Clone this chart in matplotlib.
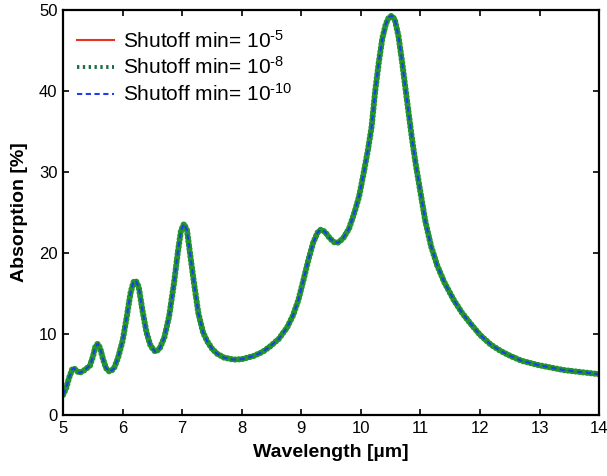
import matplotlib
matplotlib.use("Agg")
import matplotlib.pyplot as plt
from matplotlib.lines import Line2D

plt.rcParams['font.family'] = ['Liberation Sans', 'DejaVu Sans']
plt.rcParams['mathtext.fontset'] = 'custom'
plt.rcParams['mathtext.rm'] = 'Liberation Sans'
plt.rcParams['mathtext.it'] = 'Liberation Sans'

# values (all three shutoff settings overlap)
wavelength = [5.00, 5.05, 5.10, 5.15, 5.18, 5.22, 5.27, 5.33, 5.40, 5.45,
              5.50, 5.54, 5.58, 5.62, 5.67, 5.72, 5.78, 5.85, 5.92, 6.00,
              6.07, 6.13, 6.18, 6.22, 6.27, 6.33, 6.40, 6.47, 6.55, 6.62,
              6.70, 6.78, 6.86, 6.93, 6.98, 7.03, 7.08, 7.13, 7.19, 7.27,
              7.35, 7.42, 7.50, 7.58, 7.70, 7.86, 8.00, 8.20, 8.35, 8.48,
              8.62, 8.76, 8.86, 8.95, 9.04, 9.12, 9.20, 9.27, 9.33, 9.40,
              9.48, 9.56, 9.62, 9.70, 9.80, 9.90, 9.97, 10.05, 10.12, 10.18,
              10.24, 10.30, 10.36, 10.42, 10.47, 10.52, 10.57, 10.63, 10.69, 10.75,
              10.81, 10.86, 10.92, 10.97, 11.03, 11.08, 11.18, 11.28, 11.40, 11.56,
              11.70, 11.84, 12.00, 12.18, 12.35, 12.51, 12.70, 12.96, 13.20, 13.41,
              13.70, 14.00]
absorption = [2.5, 3.3, 4.6, 5.6, 5.8, 5.5, 5.2, 5.4, 5.8, 6.1,
              7.2, 8.4, 8.8, 8.3, 6.9, 5.8, 5.35, 5.7, 7.0, 9.2,
              12.2, 15.0, 16.4, 16.6, 15.8, 13.0, 10.2, 8.5, 7.8, 8.2,
              9.6, 12.2, 16.2, 20.3, 22.8, 23.6, 22.8, 20.0, 16.7, 12.6,
              10.2, 9.1, 8.2, 7.6, 7.1, 6.85, 6.9, 7.3, 7.8, 8.5,
              9.4, 10.8, 12.3, 14.2, 16.8, 19.2, 21.3, 22.5, 22.9, 22.6,
              21.8, 21.3, 21.3, 21.8, 23.0, 25.2, 27.0, 30.0, 32.8, 35.6,
              40.0, 43.5, 46.5, 48.3, 49.1, 49.3, 48.8, 46.8, 43.7, 40.2,
              36.8, 34.0, 31.0, 28.8, 26.2, 24.0, 20.8, 18.5, 16.4, 14.2,
              12.6, 11.3, 9.9, 8.7, 7.9, 7.3, 6.7, 6.2, 5.85, 5.55,
              5.3, 5.05]

labels = [r'Shutoff min= 10$^{\text{-5}}$', r'Shutoff min= 10$^{\text{-8}}$',
          r'Shutoff min= 10$^{\text{-10}}$']

fig = plt.figure(figsize=(6.07, 4.76), dpi=100)
ax = fig.add_axes([0.104, 0.128, 0.883, 0.851])

ax.plot(wavelength, absorption, color='#e8321e', lw=1.5)
ax.plot(wavelength, absorption, color='#22962a', lw=4.5,
        linestyle=(0, (0.01, 0.6)), dash_capstyle='round')
ax.plot(wavelength, absorption, color='#1f3cf0', lw=1.5,
        linestyle=(0, (2.5, 1.7)))

handles = [
    Line2D([], [], color='#e8321e', lw=1.5),
    Line2D([], [], color='#1a6e46', lw=2.8, linestyle=(0, (0.6, 0.9))),
    Line2D([], [], color='#1f3cf0', lw=1.5, linestyle=(0, (2.5, 1.7))),
]
ax.legend(handles, labels, loc='upper left', bbox_to_anchor=(0.026, 0.952),
          frameon=False, fontsize=15, borderaxespad=0, borderpad=0,
          handlelength=1.75, handletextpad=0.45, labelspacing=0.24)

ax.set_xlim(5, 14)
ax.set_ylim(0, 50)
ax.set_xticks(range(5, 15))
ax.set_yticks(range(0, 51, 10))
ax.tick_params(direction='in', length=4, width=1.2, labelsize=12,
               top=True, right=True, pad=4)
for s in ax.spines.values():
    s.set_linewidth(1.6)

ax.set_xlabel('Wavelength [µm]', fontsize=14, fontweight='bold', labelpad=6)
ax.set_ylabel('Absorption [%]', fontsize=14, fontweight='bold', labelpad=8)

fig.savefig('out.png', dpi=100)
